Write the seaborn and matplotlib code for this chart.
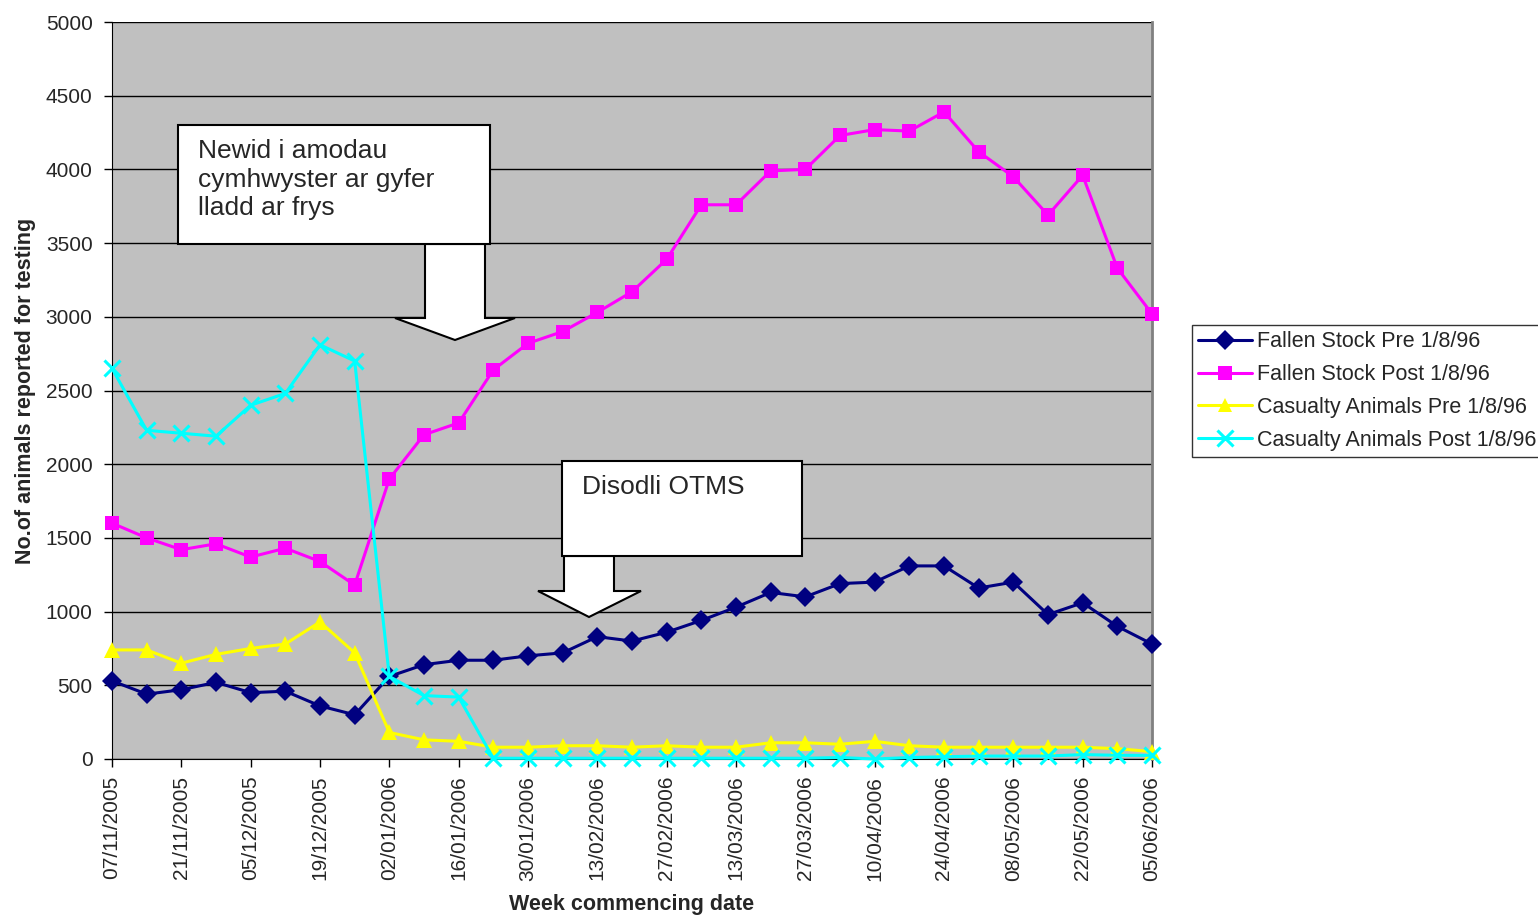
import numpy as np
import pandas as pd
import matplotlib
matplotlib.use("Agg")
import matplotlib.pyplot as plt
import seaborn as sns
from matplotlib.patches import Polygon, Rectangle

# ======================= DATA ======================
weeks = ["07/11/2005", "14/11/2005", "21/11/2005", "28/11/2005", "05/12/2005",
         "12/12/2005", "19/12/2005", "26/12/2005", "02/01/2006", "09/01/2006",
         "16/01/2006", "23/01/2006", "30/01/2006", "06/02/2006", "13/02/2006",
         "20/02/2006", "27/02/2006", "06/03/2006", "13/03/2006", "20/03/2006",
         "27/03/2006", "03/04/2006", "10/04/2006", "17/04/2006", "24/04/2006",
         "01/05/2006", "08/05/2006", "15/05/2006", "22/05/2006", "29/05/2006",
         "05/06/2006"]

fallen_pre = [530, 440, 470, 520, 450, 460, 360, 300, 560, 640, 670, 670, 700,
              720, 830, 800, 860, 940, 1030, 1130, 1100, 1190, 1200, 1310, 1310,
              1160, 1200, 980, 1060, 900, 780]
fallen_post = [1600, 1500, 1420, 1460, 1370, 1430, 1340, 1180, 1900, 2200, 2280,
               2640, 2820, 2900, 3030, 3170, 3390, 3760, 3760, 3990, 4000, 4230,
               4270, 4260, 4390, 4120, 3950, 3690, 3960, 3330, 3020]
casualty_pre = [740, 740, 650, 710, 750, 780, 930, 720, 180, 130, 120, 80, 80,
                90, 90, 80, 90, 80, 80, 110, 110, 100, 120, 90, 80, 80, 80, 80,
                80, 70, 50]
casualty_post = [2650, 2230, 2210, 2190, 2400, 2480, 2810, 2700, 560, 430, 420,
                 5, 5, 5, 5, 5, 5, 5, 5, 5, 5, 10, 0, 10, 15, 20, 20, 20, 30, 25, 25]

series_names = ["Fallen Stock Pre 1/8/96", "Fallen Stock Post 1/8/96",
                "Casualty Animals Pre 1/8/96", "Casualty Animals Post 1/8/96"]
series_values = [fallen_pre, fallen_post, casualty_pre, casualty_post]
colors = ["#000080", "#FF00FF", "#FFFF00", "#00FFFF"]
markers = ["D", "s", "^", "x"]
marker_sizes = [10, 10.5, 11.5, 12]

annot1 = "Newid i amodau\ncymhwyster ar gyfer\nlladd ar frys"
annot2 = "Disodli OTMS"

# long-form table
rows = []
for name, vals in zip(series_names, series_values):
    for i, v in enumerate(vals):
        rows.append({"week": i, "count": v, "series": name})
df = pd.DataFrame(rows)

# ======================= PLOT ======================
W, H = 1538, 916
sns.set_style("white")
plt.rcParams["font.family"] = ["Liberation Sans", "DejaVu Sans"]

fig = plt.figure(figsize=(W / 100, H / 100), dpi=100)
ax = fig.add_axes([112 / W, 1 - 759 / H, (1152 - 112) / W, (759 - 22) / H])
ax.set_facecolor("#C0C0C0")

for name, c, m, ms in zip(series_names, colors, markers, marker_sizes):
    sub = df[df.series == name]
    if m == "x":
        mkw = dict(markeredgewidth=2.2, markeredgecolor=c)
    else:
        mkw = dict(markeredgewidth=0)
    sns.lineplot(data=sub, x="week", y="count", color=c, marker=m,
                 markersize=ms, linewidth=2.2, ax=ax, zorder=3,
                 label=name, legend=False, clip_on=False, **mkw)

ax.set_xlim(0, len(weeks) - 1)
ax.set_ylim(0, 5000)
ax.set_yticks(np.arange(0, 5001, 500))
ax.yaxis.grid(True, color="black", linewidth=1)
ax.set_axisbelow(True)
ax.set_xticks(range(0, len(weeks), 2))
ax.set_xticklabels(weeks[::2], rotation=90)
ax.tick_params(axis="both", direction="out", length=6, width=1, color="black",
               labelsize=15, left=True, bottom=True, pad=8)
ax.tick_params(axis="x", pad=6)

ax.spines["top"].set_visible(False)
ax.spines["left"].set_color("black")
ax.spines["bottom"].set_color("black")
ax.spines["right"].set_color("#808080")
ax.spines["right"].set_linewidth(2)

ax.set_xlabel("Week commencing date", fontsize=15.5, fontweight="bold")
ax.set_ylabel("No.of animals reported for testing", fontsize=15.5, fontweight="bold")
ax.xaxis.set_label_coords(0.5, -0.183)
ax.yaxis.set_label_coords(-0.073, 0.5)

# legend
handles = [plt.Line2D([], [], color=c, marker=m, linewidth=2.2,
                      markersize=12 if m == "x" else 10.5,
                      markeredgewidth=2.2 if m == "x" else 0)
           for c, m in zip(colors, markers)]
leg = fig.legend(handles, series_names, loc="center left",
                 bbox_to_anchor=(1192 / W, 1 - 391 / H), fontsize=15.5,
                 frameon=True, fancybox=False, edgecolor="black",
                 handlelength=2.5, handletextpad=0.2, borderpad=0.3,
                 labelspacing=0.55, borderaxespad=0)
leg.get_frame().set_linewidth(1)


# ======================= ANNOTATIONS ======================
def px(x, y):
    return (x / W, 1 - y / H)


def callout(box, shaft, head_y, head_x, tip, text):
    x0, y0, x1, y1 = box
    arrow = [px(shaft[0], y1), px(shaft[1], y1), px(shaft[1], head_y),
             px(head_x[1], head_y), px(*tip), px(head_x[0], head_y),
             px(shaft[0], head_y)]
    fig.patches.append(Polygon(arrow, closed=True, facecolor="white",
                               edgecolor="black", linewidth=1.5,
                               transform=fig.transFigure, zorder=5))
    fig.patches.append(Rectangle(px(x0, y1), (x1 - x0) / W, (y1 - y0) / H,
                                 facecolor="white", edgecolor="black",
                                 linewidth=1.5, transform=fig.transFigure,
                                 zorder=6))
    fig.text((x0 + 20) / W, 1 - (y0 + 14) / H, text, fontsize=19,
             va="top", ha="left", linespacing=1.25, zorder=7)


callout((178, 125, 490, 244), (425, 485), 318, (395, 515), (455, 340), annot1)
callout((562, 461, 802, 556), (564, 614), 591, (538, 641), (589, 617), annot2)

fig.savefig("out.png", dpi=100, facecolor="white")
